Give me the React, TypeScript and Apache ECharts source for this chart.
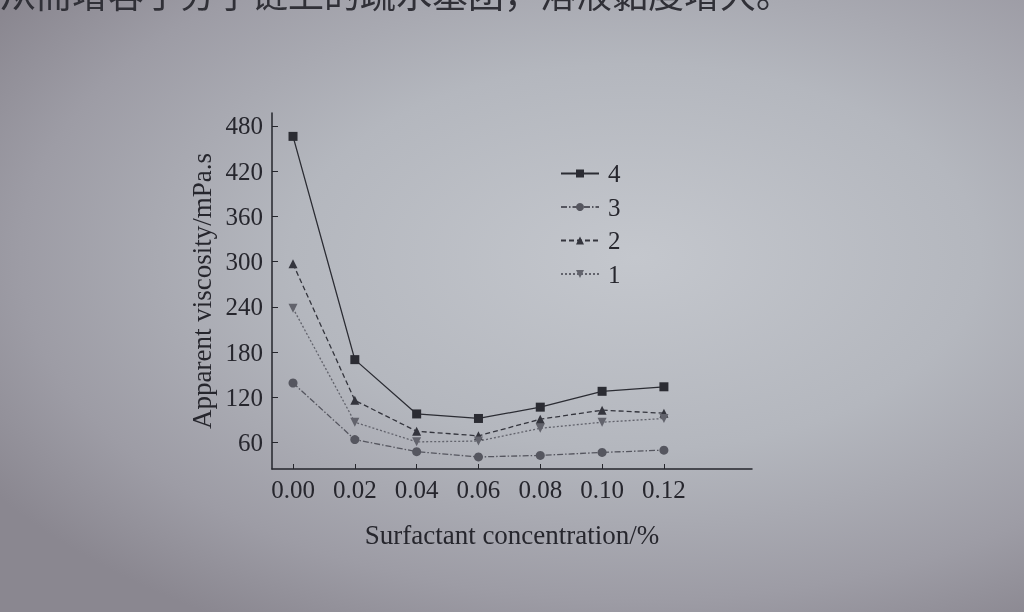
import React, { useEffect, useRef } from "react";
import * as echarts from "echarts";

const concentrations = [0, 0.02, 0.04, 0.06, 0.08, 0.1, 0.12];
const xTicks = [0, 0.02, 0.04, 0.06, 0.08, 0.1, 0.12];
const yTicks = [60, 120, 180, 240, 300, 360, 420, 480];
const seriesNames = ["4", "3", "2", "1"];
const s4 = [466, 170, 98, 92, 107, 128, 134];
const s3 = [139, 64, 48, 41, 43, 47, 50];
const s2 = [297, 116, 75, 69, 91, 103, 99];
const s1 = [238, 87, 61, 62, 79, 87, 92];
const topText = "从而增容于分子链上的疏水基团，溶液黏度增大。";

const SERIF = "'Liberation Serif', 'DejaVu Serif', serif";

export default function App() {
  const ref = useRef<HTMLDivElement>(null);
  useEffect(() => {
    if (!ref.current) return;
    const chart = echarts.init(ref.current, undefined, { renderer: "svg" });
    const values = [s4, s3, s2, s1];
    const colors = ["#2b2c33", "#55565f", "#34353d", "#62636c"];
    const symbols = ["rect", "circle", "triangle", "path://M0,0 L10,0 L5,10 Z"];
    const lineTypes: any[] = ["solid", [6, 2, 1.5, 2], [5, 3], [2, 2]];
    const textColor = "#26262d";
    chart.setOption({
      animation: false,
      backgroundColor: "transparent",
      graphic: [
        {
          type: "text",
          left: 0,
          top: -26,
          style: {
            text: topText,
            font: "36px 'Noto Sans CJK SC'",
            fill: "#303037",
          },
        },
      ],
      legend: {
        left: 560,
        top: 161,
        padding: 0,
        orient: "vertical",
        itemWidth: 38,
        itemHeight: 10,
        itemGap: 8.5,
        data: seriesNames,
        textStyle: {
          fontFamily: SERIF,
          fontSize: 25,
          color: textColor,
          padding: [0, 0, 0, 4],
        },
      },
      grid: { left: 272, right: 272, top: 113, bottom: 143 },
      xAxis: {
        type: "value",
        min: -0.0068,
        max: 0.1485,
        name: "Surfactant concentration/%",
        nameLocation: "middle",
        nameGap: 52,
        nameTextStyle: { fontFamily: SERIF, fontSize: 27, color: textColor },
        axisLine: { onZero: false, lineStyle: { color: "#25262c", width: 1.5 } },
        axisTick: { inside: true, length: 5, customValues: xTicks, lineStyle: { color: "#25262c" } },
        axisLabel: {
          customValues: xTicks,
          formatter: (v: number) => v.toFixed(2),
          fontFamily: SERIF,
          fontSize: 25,
          color: textColor,
          margin: 8,
        },
        splitLine: { show: false },
      },
      yAxis: {
        type: "value",
        min: 25,
        max: 497,
        name: "Apparent viscosity/mPa.s",
        nameLocation: "middle",
        nameGap: 57,
        nameTextStyle: { fontFamily: SERIF, fontSize: 27, color: textColor },
        axisLine: { show: true, onZero: false, lineStyle: { color: "#25262c", width: 1.5 } },
        axisTick: { show: true, inside: true, length: 6, customValues: yTicks, lineStyle: { color: "#25262c" } },
        axisLabel: {
          customValues: yTicks,
          fontFamily: SERIF,
          fontSize: 25,
          color: textColor,
          margin: 9,
        },
        splitLine: { show: false },
      },
      series: seriesNames.map((name, i) => ({
        name,
        type: "line",
        data: concentrations.map((c, j) => [c, values[i][j]]),
        symbol: symbols[i],
        symbolSize: 9,
        itemStyle: { color: colors[i] },
        lineStyle: { color: colors[i], width: 1.3, type: lineTypes[i] },
      })),
    });
    return () => chart.dispose();
  }, []);
  return (
    <div
      style={{
        position: "fixed",
        left: 0,
        top: 0,
        width: 1024,
        height: 612,
        overflow: "hidden",
        background:
          "radial-gradient(ellipse 75% 70% at 62% 42%, #c4c7cd 0%, #b4b7be 45%, #9d9ca5 80%, #8a8790 100%)",
      }}
    >
      <div ref={ref} style={{ width: 1024, height: 612 }} />
    </div>
  );
}
